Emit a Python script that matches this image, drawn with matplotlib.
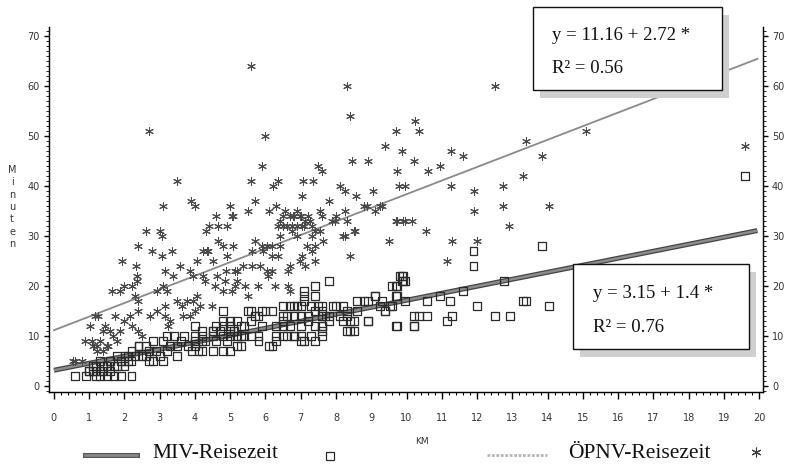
import numpy as np
import matplotlib
matplotlib.use('Agg')
import matplotlib.pyplot as plt
from matplotlib.patches import Rectangle
from matplotlib.lines import Line2D
from matplotlib.ticker import MultipleLocator

# OPNV travel time (asterisks): km, minutes
opnv_km = [2.7, 5.6, 8.3, 8.4, 6.0, 5.9, 3.5, 3.1, 3.9, 4.0, 4.6, 5.0, 5.05, 4.4, 4.65, 4.9, 4.3, 2.6, 3.0, 3.06,
           5.5, 5.6, 5.7, 5.7, 6.2, 6.35, 6.1, 6.3, 6.4, 6.5, 6.8, 6.9, 7.0, 7.2, 6.6, 6.9, 7.1, 7.03, 7.06, 7.35,
           7.5, 7.6, 7.8, 7.55, 7.6, 7.26, 7.4, 8.1, 8.25, 8.45, 8.9, 8.57, 9.05, 8.25, 8.5, 8.2, 8.8, 9.1, 9.25, 9.4,
           9.7, 9.73, 9.7, 9.5, 9.8, 7.9, 8.0,
           12.5, 10.24, 10.35, 9.87, 10.2, 10.6, 10.95, 11.26, 11.6, 9.96, 11.26, 11.9, 12.74, 13.3, 13.4, 13.85, 15.1,
           12.74, 14.04, 11.9, 12.9, 9.9, 10.16, 10.55, 11.3, 12.0, 19.6, 11.15,
           2.38, 2.78, 3.06, 3.35, 1.93, 2.33, 2.35, 2.35, 3.15, 3.38, 3.57, 3.86, 4.06, 4.23, 4.37, 4.5, 4.65, 4.8,
           4.9, 4.88, 5.13, 4.28, 4.57, 4.8, 5.05, 5.13, 1.65, 1.87, 2.0, 2.2, 2.3, 2.38, 2.92, 3.1, 3.2, 3.5, 3.63,
           3.77, 3.95, 4.14, 4.48, 3.95, 4.23, 2.38, 2.72, 2.92, 3.15, 3.15, 3.3, 3.23, 1.73, 2.16, 2.0, 1.87, 1.59,
           1.45, 1.16, 1.25, 1.02, 0.88, 1.3, 1.53, 1.4, 2.2, 2.38, 2.5, 1.67, 1.79, 0.54, 0.8, 3.66, 3.86, 4.0, 4.06,
           4.34, 4.62, 4.85, 5.19, 5.19, 1.1, 1.22,
           5.08, 5.08, 6.55, 6.7, 6.78, 6.98, 8.3, 6.35, 6.5, 6.75, 7.03, 7.12, 7.32, 7.55, 7.97, 8.88, 9.3, 9.73,
           9.96, 8.4, 8.25, 8.54, 6.41, 6.75, 6.9, 7.32, 7.4, 7.63, 5.9, 6.04, 6.18, 6.41, 5.62, 5.93, 6.18, 6.35,
           7.03, 6.98, 7.32, 7.18, 7.4, 6.7, 6.64, 7.12, 5.36, 5.62, 5.84, 6.04, 6.18, 6.07, 5.42, 5.79, 6.27, 6.64,
           6.7, 5.5, 0.6, 1.08, 1.39, 1.22, 1.5]
opnv_min = [51, 64, 60, 54, 50, 44, 41, 36, 37, 36, 34, 36, 34, 32, 32, 32, 31, 31, 31, 30,
            35, 41, 37, 29, 40, 41, 35, 36, 33, 34, 34, 35, 34, 34, 32, 32, 32, 38, 41, 41,
            44, 43, 37, 35, 34, 33, 31, 40, 39, 45, 45, 38, 39, 35, 31, 30, 36, 35, 36, 48,
            51, 43, 33, 29, 40, 33, 34,
            60, 53, 51, 47, 45, 43, 44, 47, 46, 40, 40, 39, 40, 42, 49, 46, 51,
            36, 36, 35, 32, 33, 33, 31, 29, 29, 48, 25,
            28, 27, 26, 27, 25, 24, 22, 21, 23, 22, 24, 23, 25, 27, 27, 25, 29, 28,
            26, 23, 23, 21, 20, 19, 19, 20, 19, 19, 20, 20, 18, 17, 19, 20, 19, 17, 16,
            17, 17, 16, 16, 22, 22, 15, 14, 15, 16, 14, 13, 12, 14, 14, 13, 11, 11,
            12, 14, 14, 12, 9, 9, 8, 7, 12, 11, 10, 10, 9, 5, 5, 14, 14, 15, 18,
            27, 22, 21, 23, 21, 8, 7,
            34, 28, 35, 34, 34, 34, 33, 32, 32, 32, 32, 33, 32, 31, 33, 36, 36, 33,
            33, 26, 30, 31, 30, 31, 30, 30, 28, 29, 28, 28, 28, 28, 27, 27, 26, 26,
            26, 25, 27, 28, 25, 24, 23, 24, 24, 24, 24, 23, 23, 22, 20, 20, 20, 20,
            19, 18, 5, 9, 11, 8, 8]

# MIV travel time (squares): km, minutes
miv_km = [0.6, 0.9, 1.2, 1.3, 1.5, 1.7, 1.9, 2.2,
          1.1, 1.3, 1.6, 1.8, 2.1, 2.2, 2.4, 2.6,
          2.8, 3.1, 3.5, 3.9, 4.1, 4.5, 4.8,
          2.8, 3.1, 3.4, 3.7, 4.0, 4.2, 4.5, 4.7, 4.8,
          4.8, 5.0, 5.3, 5.5, 5.7, 5.8, 6.0,
          5.0, 5.3, 5.8, 6.2, 6.1, 6.3,
          6.5, 6.6, 6.8, 7.0, 7.1, 7.1, 7.4, 7.4,
          6.6, 6.8, 7.0, 7.1, 7.4,
          7.4, 7.6, 7.7, 7.8, 7.6, 7.6,
          7.8, 7.9, 8.2, 8.3, 8.6, 8.8, 8.9, 9.1, 9.3,
          8.3, 8.5, 8.2, 8.5,
          9.6, 9.8, 9.7, 9.7,
          7.1, 6.5, 6.7, 6.9, 7.3, 7.5, 7.6, 8.0,
          8.6, 8.9, 9.1, 9.4, 9.6, 9.9, 9.9, 9.7,
          8.9, 8.4, 8.4, 10.2, 10.2,
          5.6, 5.9, 6.2, 6.5, 6.8, 7.0, 7.2, 7.6, 7.8, 8.1, 8.3,
          5.0, 5.2, 5.4, 5.6, 5.9, 6.3, 6.5, 6.7, 7.0, 7.2, 7.4, 7.6,
          5.0, 5.3, 5.6, 5.8, 6.3, 6.5, 6.8, 7.0, 7.3, 7.6,
          1.0, 2.0, 2.4, 3.2, 2.7, 4.2, 4.0, 4.2, 4.5, 4.8, 5.0, 5.1, 4.8, 5.0, 4.0, 4.2, 4.5, 4.6, 5.2,
          11.9, 11.9, 13.85, 9.87, 9.87, 9.73, 9.73, 9.96, 9.25, 9.4, 9.53, 9.96, 10.58, 10.95, 11.23, 11.6,
          12.77, 12.0, 13.3, 13.4, 14.04, 10.35, 10.58, 11.3, 12.5, 12.94, 9.73, 10.2, 11.15, 19.6,
          1.0, 1.1, 1.2, 1.3, 1.4, 1.4, 1.5, 1.6, 1.7, 1.8, 1.9, 2.0, 2.1, 2.3, 2.5, 2.6, 2.7, 2.9, 3.0, 3.2,
          3.3, 3.5, 3.6, 3.8, 4.0, 4.3, 4.6, 4.9, 5.2, 5.4, 1.2, 1.6, 2.0, 2.2]
miv_min = [2, 2, 2, 2, 2, 2, 2, 2,
           4, 5, 5, 6, 6, 7, 8, 8,
           5, 5, 6, 7, 7, 7, 7,
           9, 9, 10, 10, 10, 10, 11, 11, 15,
           13, 12, 12, 15, 14, 14, 15,
           7, 8, 9, 8, 8, 9,
           12, 14, 16, 16, 18, 19, 20, 18,
           10, 10, 9, 9, 9,
           15, 15, 14, 13, 12, 11,
           21, 16, 16, 15, 15, 17, 13, 18, 17,
           11, 11, 13, 13,
           20, 22, 18, 12,
           17, 16, 16, 16, 16, 16, 16, 16,
           17, 17, 18, 15, 16, 22, 21, 20,
           13, 13, 11, 14, 12,
           15, 15, 15, 14, 14, 14, 14, 14, 14, 14, 14,
           12, 13, 12, 13, 12, 12, 13, 12, 12, 13, 12, 12,
           10, 10, 10, 10, 10, 10, 10, 10, 10, 10,
           3, 6, 8, 10, 5, 7, 9, 9, 10, 10, 11, 11, 12, 13, 12, 11, 11, 12, 8,
           27, 24, 28, 22, 21, 20, 18, 21, 16, 15, 16, 17, 17, 18, 17, 19,
           21, 16, 17, 17, 16, 14, 14, 14, 14, 14, 12, 12, 13, 42,
           3, 3, 4, 3, 4, 3, 4, 3, 4, 4, 5, 5, 5, 6, 6, 6, 7, 7, 6, 7,
           8, 8, 9, 8, 8, 9, 9, 9, 10, 10, 3, 5, 4, 5]

x_ticks = list(range(0, 21))
y_ticks = list(range(0, 71, 10))
opnv_a, opnv_b, opnv_r2 = 11.16, 2.72, 0.56
miv_a, miv_b, miv_r2 = 3.15, 1.4, 0.76

W, H = 790, 466
def fx(px):
    return px / W
def fy(py):
    return 1 - py / H

fig = plt.figure(figsize=(7.9, 4.66), dpi=100)
ax = fig.add_axes([fx(49), fy(392), fx(763) - fx(49), fy(27) - fy(392)])
ax.set_xlim(-0.14, 20.11)
ax.set_ylim(-1.2, 71.8)

tc = '#333333'
ax.spines['top'].set_visible(False)
for s in ['left', 'right', 'bottom']:
    ax.spines[s].set_linewidth(1.0)
    ax.spines[s].set_color('#222222')

ax.set_xticks(x_ticks)
ax.xaxis.set_minor_locator(MultipleLocator(0.2))
ax.set_yticks(y_ticks)
ax.yaxis.set_minor_locator(MultipleLocator(1))
ax.tick_params(axis='x', which='major', direction='out', length=5, width=1, pad=10,
               labelsize=7, labelcolor=tc)
ax.tick_params(axis='x', which='minor', direction='out', length=2.5, width=0.8)
ax.tick_params(axis='y', which='major', direction='out', length=3.5, width=1, pad=3,
               labelsize=7, labelcolor=tc)
ax.tick_params(axis='y', which='minor', direction='out', length=2, width=0.6)

ax2 = ax.twinx()
ax2.set_ylim(ax.get_ylim())
ax2.set_yticks(y_ticks)
ax2.yaxis.set_minor_locator(MultipleLocator(1))
ax2.spines['top'].set_visible(False)
ax2.tick_params(axis='y', which='major', direction='out', length=3.5, width=1, pad=3,
                labelsize=7, labelcolor=tc)
ax2.tick_params(axis='y', which='minor', direction='out', length=2, width=0.6)

# regression lines
xl = np.array([0, 19.95])
ax.plot(xl, opnv_a + opnv_b * xl, color='#8a8a8a', lw=1.3, zorder=3)
ax.plot(xl, miv_a + miv_b * xl, color='#444444', lw=3.6, zorder=3, solid_capstyle='butt')
ax.plot(xl, miv_a + miv_b * xl, color='#8c8c8c', lw=1.8, zorder=3, solid_capstyle='butt')

# points
ax.scatter(miv_km, miv_min, marker='s', s=32, facecolors='none', edgecolors='#2a2a2a',
           linewidths=0.9, zorder=4)
ax.scatter(opnv_km, opnv_min, marker=(6, 2, 0), s=32, color='#4a4a4a', linewidths=0.75, zorder=4)

# equation boxes with shadow
def eq_box(x0, y0, x1, y1, lines, ys, tx):
    fig.patches.append(Rectangle((fx(x0 + 7), fy(y1 + 8)), fx(x1) - fx(x0), fy(y0) - fy(y1),
                                 transform=fig.transFigure, facecolor='#cfcfcf', edgecolor='none',
                                 zorder=5))
    fig.patches.append(Rectangle((fx(x0), fy(y1)), fx(x1) - fx(x0), fy(y0) - fy(y1),
                                 transform=fig.transFigure, facecolor='white', edgecolor='#111111',
                                 lw=1.0, zorder=6))
    for t, yy in zip(lines, ys):
        fig.text(fx(tx), fy(yy), t, ha='left', va='center', fontsize=13.5,
                 family='Liberation Serif', color='#111111', zorder=7)

eq_box(533, 7, 722, 90, ['y = %.2f + %.2f *' % (opnv_a, opnv_b), 'R² = %.2f' % opnv_r2], [36, 68], 552)
eq_box(573, 264, 749, 349, ['y = %.2f + %.1f *' % (miv_a, miv_b), 'R² = %.2f' % miv_r2], [293, 327], 593)

# axis titles
fig.text(fx(12), fy(207), '\n'.join('Minuten'), ha='center', va='center', fontsize=7,
         linespacing=1.3, color=tc)
fig.text(fx(422), fy(442), 'KM', ha='center', va='center', fontsize=6.5, color=tc)

# legend
fig.lines.append(Line2D([fx(85), fx(137)], [fy(455), fy(455)], transform=fig.transFigure,
                        color='#555555', lw=3.6))
fig.lines.append(Line2D([fx(85), fx(137)], [fy(455), fy(455)], transform=fig.transFigure,
                        color='#8c8c8c', lw=1.8))
fig.text(fx(152), fy(454), 'MIV-Reisezeit', ha='left', va='center', fontsize=15.5,
         family='Liberation Serif', color='#111111')
fig.lines.append(Line2D([fx(330)], [fy(456)], transform=fig.transFigure, marker='s', ms=5.7,
                        mfc='none', mec='#2a2a2a', mew=0.9, ls='none'))
fig.lines.append(Line2D([fx(487), fx(547)], [fy(455), fy(455)], transform=fig.transFigure,
                        color='#b5b5b5', lw=2.0, ls=(0, (1, 0.6))))
fig.text(fx(568), fy(454), 'ÖPNV-Reisezeit', ha='left', va='center', fontsize=15.5,
         family='Liberation Serif', color='#111111')
fig.lines.append(Line2D([fx(756)], [fy(452)], transform=fig.transFigure, marker=(6, 2, 0), ms=7,
                        color='#3c3c3c', mew=0.8, ls='none'))

fig.savefig('out.png', dpi=100)
